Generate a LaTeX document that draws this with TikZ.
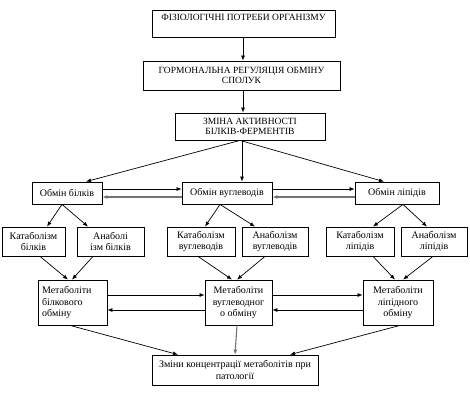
\documentclass[tikz,border=0pt]{standalone}
\usepackage{fontspec}
\setmainfont{Liberation Serif}
\usetikzlibrary{arrows.meta}
\begin{document}
\begin{tikzpicture}[x=1pt,y=-1pt,
  box/.style={draw=black, line width=0.8pt, inner sep=1pt, align=center, font=\fontsize{10}{11.5}\selectfont},
  capbox/.style={box, font=\fontsize{9.5}{10.5}\selectfont},
  txt/.style={inner sep=0pt, align=center},
  arr/.style={draw=black, line width=0.7pt, -{Latex[length=5pt,width=4pt]}},
  garr/.style={arr, draw=black!55, line width=1.1pt, -{Latex[length=5pt,width=4pt,fill=black]}}]
\useasboundingbox (0,0) rectangle (470,409);
% level 1-3
\node[capbox, minimum width=183pt, minimum height=27pt] (b1) at (243.5,23.5) {};
\node[txt, font=\fontsize{9.5}{10.5}\selectfont] (b1t) at (243.5,17) {ФІЗІОЛОГІЧНІ ПОТРЕБИ ОРГАНІЗМУ};
\node[capbox, minimum width=197pt, minimum height=29pt] (b2) at (241.5,75.5) {ГОРМОНАЛЬНА РЕГУЛЯЦІЯ ОБМІНУ\\СПОЛУК};
\node[capbox, minimum width=150pt, minimum height=27pt] (b3) at (250,126.5) {ЗМІНА АКТИВНОСТІ\\БІЛКІВ-ФЕРМЕНТІВ};
% Обмін row
\node[box, minimum width=70pt, minimum height=22pt] (o1) at (67,193) {Обмін білків};
\node[box, minimum width=90pt, minimum height=22pt] (o2) at (227,193) {Обмін вуглеводів};
\node[box, minimum width=84pt, minimum height=22pt] (o3) at (397,193) {Обмін ліпідів};
% cat/anab row
\node[box, minimum width=63pt, minimum height=29pt] (k1) at (33.5,241.5) {Катаболізм\\білків};
\node[box, minimum width=67pt, minimum height=29pt] (a1) at (110.5,241.5) {Анаболі\\ізм білків};
\node[box, minimum width=68pt, minimum height=29pt] (k2) at (201,241.5) {Катаболізм\\вуглеводів};
\node[box, minimum width=66pt, minimum height=29pt] (a2) at (275,241.5) {Анаболізм\\вуглеводів};
\node[box, minimum width=68pt, minimum height=29pt] (k3) at (360,241.5) {Катаболізм\\ліпідів};
\node[box, minimum width=66pt, minimum height=29pt] (a3) at (434,241.5) {Анаболізм\\ліпідів};
% metabolites
\node[box, minimum width=69pt, minimum height=45pt, align=left, text width=61pt] (m1) at (72.5,302.5) {Метаболіти\\білкового\\обміну};
\node[box, minimum width=67pt, minimum height=45pt] (m2) at (238.5,302.5) {Метаболіти\\вуглеводног\\о обміну};
\node[box, minimum width=70pt, minimum height=45pt] (m3) at (398,302.5) {Метаболіти\\ліпідного\\обміну};
% bottom
\node[box, minimum width=166pt, minimum height=30pt] (z) at (235,370) {Зміни концентрації метаболітів при\\патології};
% arrows
\draw[arr] ([xshift=-0.5pt]b1.south) -- ([xshift=1.5pt]b2.north);
\draw[arr] ([xshift=1.5pt]b2.south) -- ([xshift=-7pt]b3.north);
\draw[arr] ([xshift=-10pt]b3.south) -- ([xshift=19pt]o1.north);
\draw[arr] ([xshift=-8pt]b3.south) -- ([xshift=15pt]o2.north);
\draw[arr] ([xshift=-10pt]b3.south) -- ([xshift=-13pt]o3.north);
\draw[arr] ([yshift=4pt]o1.east) -- ([yshift=4pt]o2.west);
\draw[garr] ([yshift=-4pt]o2.west) -- ([yshift=-4pt]o1.east);
\draw[arr] ([yshift=4pt]o2.east) -- ([yshift=4pt]o3.west);
\draw[garr] ([yshift=-4pt]o3.west) -- ([yshift=-4pt]o2.east);
\draw[arr] ([xshift=-5pt]o1.south) -- ([xshift=13.5pt]k1.north);
\draw[arr] ([xshift=-5pt]o1.south) -- ([xshift=-22.5pt]a1.north);
\draw[arr] ([xshift=-7pt]o2.south) -- ([xshift=4pt]k2.north);
\draw[arr] ([xshift=-7pt]o2.south) -- ([xshift=-20pt]a2.north);
\draw[arr] ([xshift=6pt]o3.south) -- ([xshift=13pt]k3.north);
\draw[arr] ([xshift=6pt]o3.south) -- ([xshift=-7pt]a3.north);
\draw[arr] ([xshift=6.5pt]k1.south) -- ([xshift=-4.5pt]m1.north);
\draw[arr] ([xshift=-17.5pt]a1.south) -- ([xshift=-0.5pt]m1.north);
\draw[arr] ([xshift=-3pt]k2.south) -- ([xshift=-6.5pt]m2.north);
\draw[arr] ([xshift=-10pt]a2.south) -- ([xshift=-1.5pt]m2.north);
\draw[arr] ([xshift=13pt]k3.south) -- ([xshift=-3pt]m3.north);
\draw[arr] ([xshift=-1pt]a3.south) -- ([xshift=5pt]m3.north);
\draw[arr] ([yshift=7.5pt]m1.east) -- ([yshift=7.5pt]m2.west);
\draw[arr] ([yshift=-7.5pt]m2.west) -- ([yshift=-7.5pt]m1.east);
\draw[arr] ([yshift=7.5pt]m2.east) -- ([yshift=7.5pt]m3.west);
\draw[arr] ([yshift=-7.5pt]m3.west) -- ([yshift=-7.5pt]m2.east);
\draw[arr] ([xshift=-2.5pt]m1.south) -- ([xshift=-57pt]z.north);
\draw[garr] ([xshift=-1.5pt]m2.south) -- (z.north);
\draw[arr] ([xshift=2pt]m3.south) -- ([xshift=55pt]z.north);
\end{tikzpicture}
\end{document}
